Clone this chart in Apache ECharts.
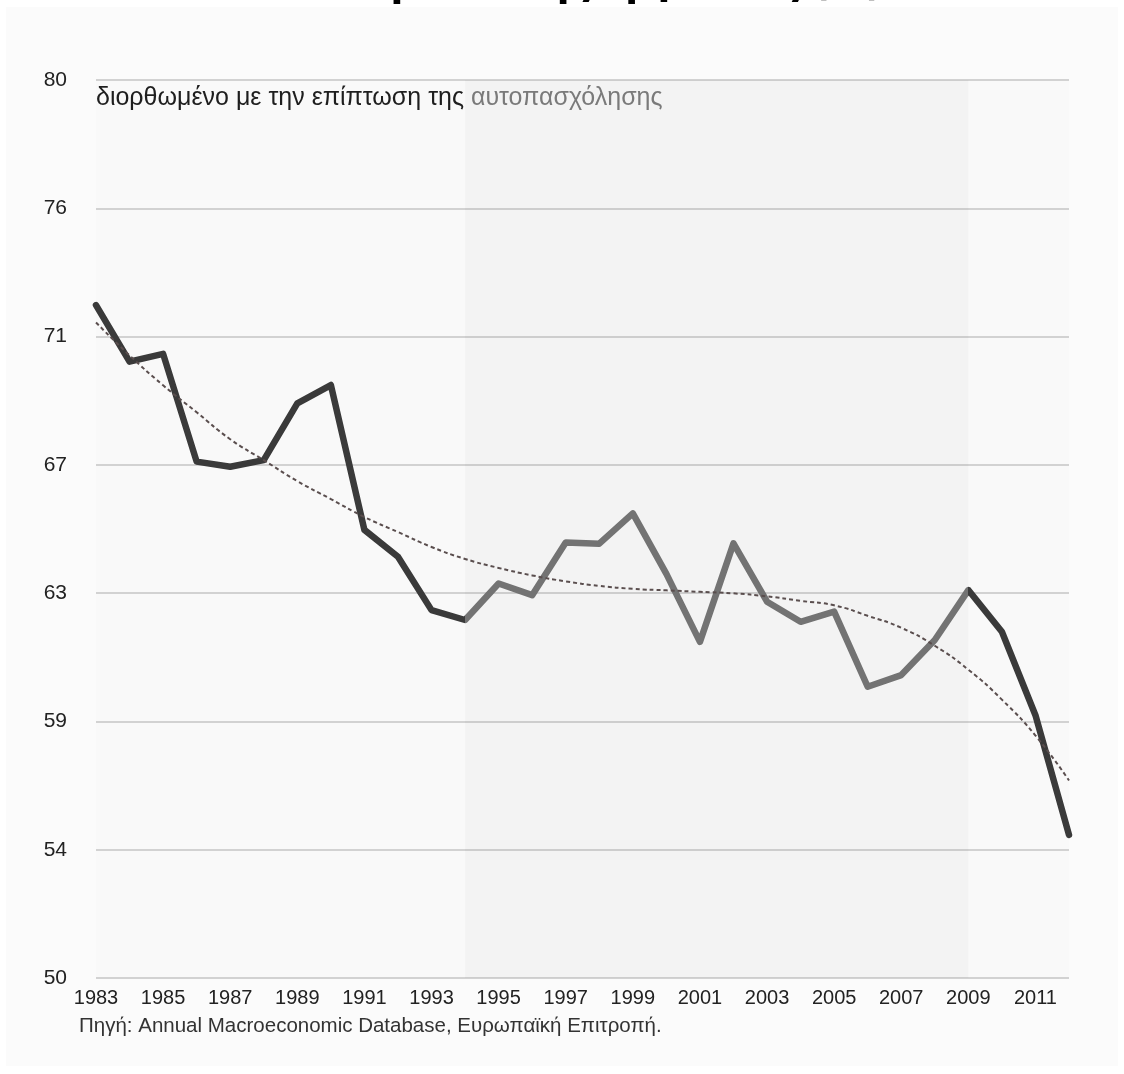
<!DOCTYPE html>
<html>
<head>
<meta charset="utf-8">
<script src="https://cdn.jsdelivr.net/npm/echarts@6/dist/echarts.min.js"></script>
<style>
html,body{margin:0;padding:0;background:#fff;}
#chart{width:1124px;height:1074px;}
</style>
</head>
<body>
<div id="chart"></div>
<script>
const years = ['1983','1984','1985','1986','1987','1988','1989','1990','1991','1992','1993','1994','1995','1996','1997','1998','1999','2000','2001','2002','2003','2004','2005','2006','2007','2008','2009','2010','2011','2012'];
const laborShare = [72.48,70.59,70.85,67.25,67.08,67.30,69.20,69.81,64.97,64.07,62.29,61.96,63.18,62.79,64.55,64.51,65.52,63.5,61.23,64.52,62.57,61.90,62.24,59.73,60.12,61.29,62.96,61.57,58.78,54.78];
const trend = [71.9,70.8,69.8,68.9,68.0,67.3,66.6,66.0,65.4,64.9,64.4,64.0,63.7,63.45,63.25,63.1,63.0,62.95,62.9,62.85,62.75,62.6,62.45,62.1,61.7,61.1,60.3,59.3,58.1,56.6];
const shadeFrom = '1994';
const shadeTo = '2009';
const subtitleMain = 'διορθωμένο με την επίπτωση της ';
const subtitleGray = 'αυτοπασχόλησης';
const sourceText = 'Πηγή: Annual Macroeconomic Database, Ευρωπαϊκή Επιτροπή.';
const titleText = 'Μερίδιο της εργασίας (%),';

const chart = echarts.init(document.getElementById('chart'), null, {renderer:'canvas'});
const FONT = '"Liberation Sans", Arial, sans-serif';
chart.setOption({
  animation: false,
  backgroundColor: '#ffffff',
  graphic: {
    elements: [
      {type:'text', z:-200, x: 895, y: -20, style:{text: titleText, font:'bold 44px "Noto Sans", sans-serif', fill:'#000', textAlign:'right', textVerticalAlign:'middle'}},
      {type:'rect', z:-100, shape:{x:6, y:7, width:1112, height:1059}, style:{fill:'#fbfbfb'}},
      {type:'text', z:50, x: 96, y: 98, style:{text: '{a|' + subtitleMain + '}{b|' + subtitleGray + '}', rich:{a:{fontFamily:FONT, fontSize:25, fill:'#1e1e1e'}, b:{fontFamily:FONT, fontSize:25, fill:'#7a7a7a'}}, textVerticalAlign:'middle'}},
      {type:'text', z:50, x: 79, y: 1026, style:{text: sourceText, fontFamily: FONT, fontSize: 20.5, fill:'#333', textVerticalAlign:'middle'}}
    ]
  },
  grid: {left: 96, right: 55, top: 80, bottom: 96, show: true, backgroundColor: '#f9f9f9', borderWidth: 0},
  xAxis: {
    type: 'category', data: years, boundaryGap: false,
    axisLine: {show: false}, axisTick: {show: false},
    axisLabel: {interval: 1, color: '#222', fontFamily: FONT, fontSize: 20, margin: 10},
    splitLine: {show: false}
  },
  yAxis: {
    type: 'value', min: 50, max: 80, interval: 30/7,
    axisLine: {show: false}, axisTick: {show: false},
    axisLabel: {color: '#222', fontFamily: FONT, fontSize: 21, margin: 29, formatter: v => String(Math.round(v))},
    splitLine: {lineStyle: {color: '#c4c4c4', width: 1.5}}
  },
  visualMap: {
    show: false, type: 'piecewise', dimension: 0, seriesIndex: 0,
    pieces: [
      {lte: years.indexOf(shadeFrom), color: '#3a3a3a'},
      {gt: years.indexOf(shadeFrom), lt: years.indexOf(shadeTo), color: '#737373'},
      {gte: years.indexOf(shadeTo), color: '#3a3a3a'}
    ]
  },
  series: [
    {
      type: 'line', data: laborShare, symbol: 'none', z: 5,
      lineStyle: {width: 6.5, join: 'round', cap: 'round'},
      markArea: {silent: true, itemStyle: {color: 'rgba(0,0,0,0.022)'}, data: [[{xAxis: shadeFrom}, {xAxis: shadeTo}]]}
    },
    {
      type: 'line', data: trend, symbol: 'none', smooth: true, z: 6,
      lineStyle: {width: 2, color: '#5a4e4e', type: [4, 3]}
    }
  ]
});
</script>
</body>
</html>
